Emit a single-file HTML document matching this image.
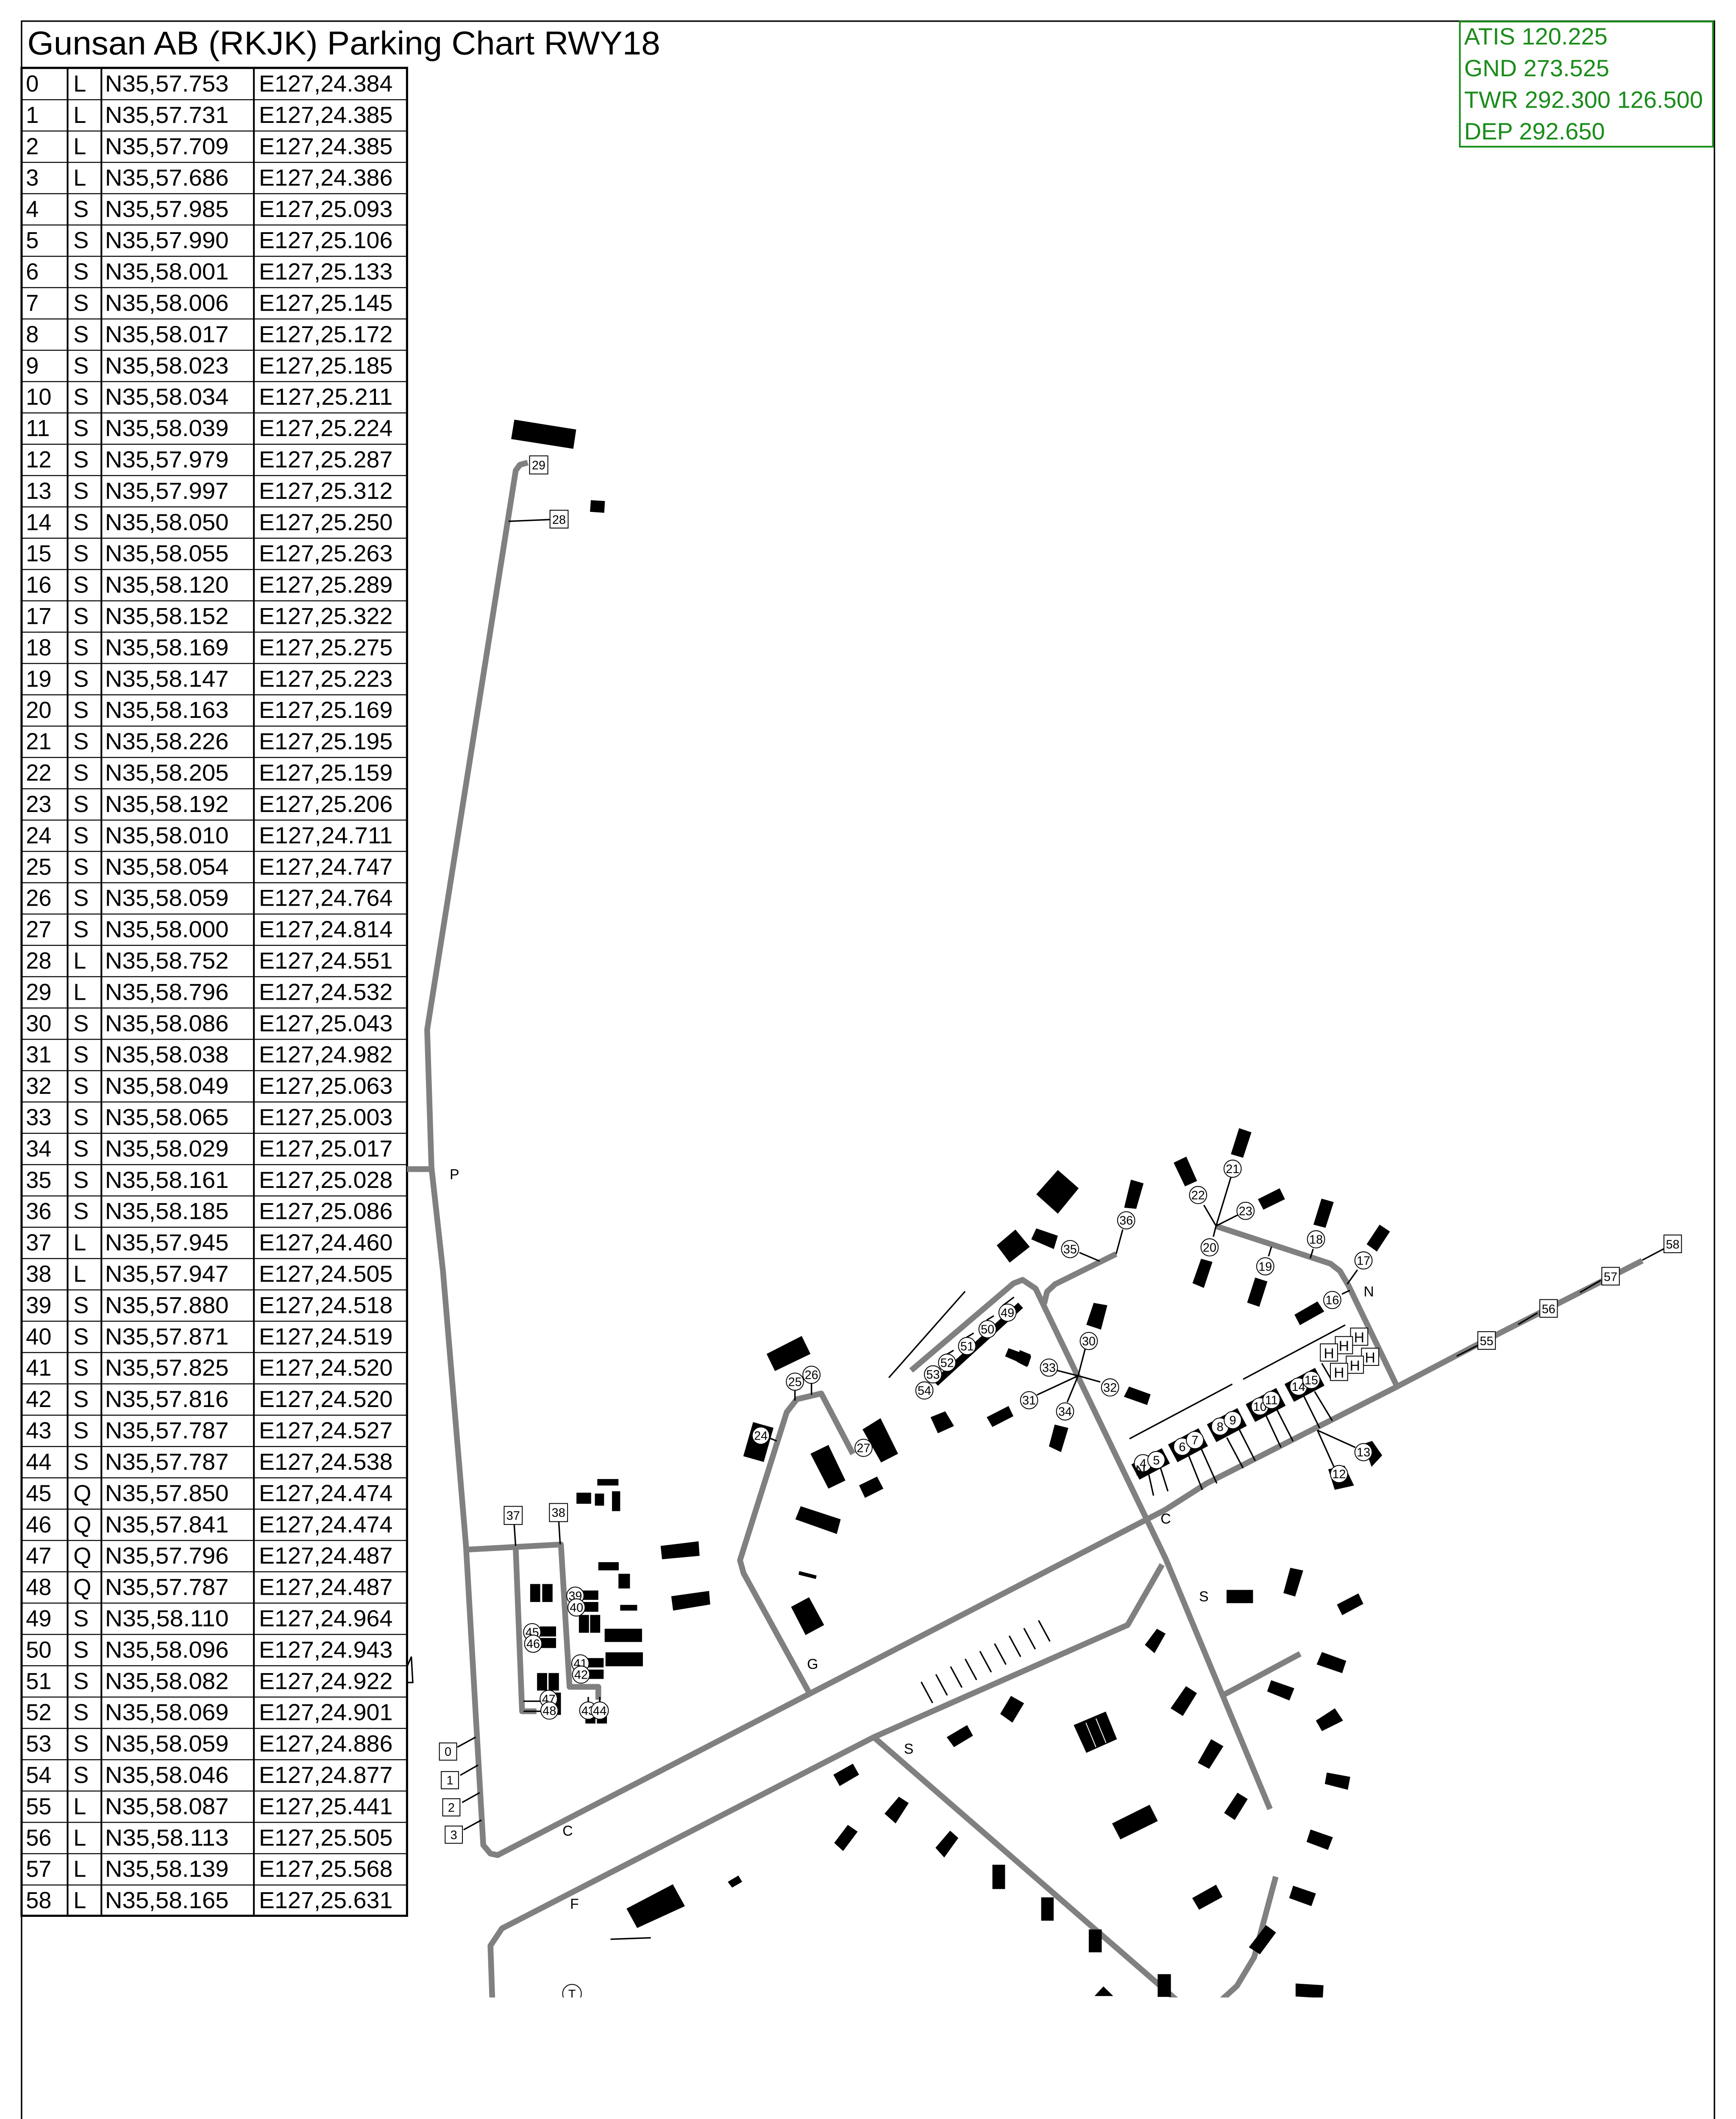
<!DOCTYPE html>
<html><head><meta charset="utf-8">
<style>
html,body{margin:0;padding:0;background:#fff;width:4096px;height:5324px;overflow:hidden;}
svg{display:block;}
text{font-family:"Liberation Sans",Arial,sans-serif;}
</style></head>
<body>
<svg xmlns="http://www.w3.org/2000/svg" width="4096" height="5324" viewBox="0 0 1207 1569" preserveAspectRatio="none">
<defs>
<pattern id="rows" x="0" y="47.2" width="400" height="21.78" patternUnits="userSpaceOnUse">
<line x1="0" y1="0" x2="400" y2="0" stroke="#000" stroke-width="1.4"/>
</pattern>
<clipPath id="mapclip"><rect x="284" y="0" width="923" height="1389"/></clipPath>
</defs>
<rect x="0" y="0" width="1207" height="1569" fill="#fff"/>
<rect x="15" y="14.7" width="1177" height="1541.3" fill="none" stroke="#000" stroke-width="1"/>
<text x="19" y="37.8" font-size="23" textLength="440" lengthAdjust="spacingAndGlyphs">Gunsan AB (RKJK) Parking Chart RWY18</text>
<rect x="1015" y="15" width="176" height="87" fill="#fff" stroke="#1a8c1a" stroke-width="1.2"/>
<g fill="#1a8c1a" font-size="16.5">
<text x="1018" y="31">ATIS 120.225</text>
<text x="1018" y="53">GND 273.525</text>
<text x="1018" y="75">TWR 292.300 126.500</text>
<text x="1018" y="97">DEP 292.650</text>
</g>
<rect x="15" y="47.2" width="268" height="1285" fill="url(#rows)"/>
<rect x="15" y="47.2" width="268" height="1285" fill="none" stroke="#000" stroke-width="1.5"/>
<g stroke="#000" stroke-width="1.2">
<line x1="47" y1="47.2" x2="47" y2="1332.2"/>
<line x1="70.5" y1="47.2" x2="70.5" y2="1332.2"/>
<line x1="176.5" y1="47.2" x2="176.5" y2="1332.2"/>
</g>
<g font-size="16">
<g transform="translate(0,0)"><text x="18" y="63.7">0</text><text x="51" y="63.7">L</text><text x="73" y="63.7" textLength="86" lengthAdjust="spacingAndGlyphs">N35,57.753</text><text x="180" y="63.7" textLength="93" lengthAdjust="spacingAndGlyphs">E127,24.384</text></g>
<g transform="translate(0,21.78)"><text x="18" y="63.7">1</text><text x="51" y="63.7">L</text><text x="73" y="63.7" textLength="86" lengthAdjust="spacingAndGlyphs">N35,57.731</text><text x="180" y="63.7" textLength="93" lengthAdjust="spacingAndGlyphs">E127,24.385</text></g>
<g transform="translate(0,43.56)"><text x="18" y="63.7">2</text><text x="51" y="63.7">L</text><text x="73" y="63.7" textLength="86" lengthAdjust="spacingAndGlyphs">N35,57.709</text><text x="180" y="63.7" textLength="93" lengthAdjust="spacingAndGlyphs">E127,24.385</text></g>
<g transform="translate(0,65.34)"><text x="18" y="63.7">3</text><text x="51" y="63.7">L</text><text x="73" y="63.7" textLength="86" lengthAdjust="spacingAndGlyphs">N35,57.686</text><text x="180" y="63.7" textLength="93" lengthAdjust="spacingAndGlyphs">E127,24.386</text></g>
<g transform="translate(0,87.12)"><text x="18" y="63.7">4</text><text x="51" y="63.7">S</text><text x="73" y="63.7" textLength="86" lengthAdjust="spacingAndGlyphs">N35,57.985</text><text x="180" y="63.7" textLength="93" lengthAdjust="spacingAndGlyphs">E127,25.093</text></g>
<g transform="translate(0,108.9)"><text x="18" y="63.7">5</text><text x="51" y="63.7">S</text><text x="73" y="63.7" textLength="86" lengthAdjust="spacingAndGlyphs">N35,57.990</text><text x="180" y="63.7" textLength="93" lengthAdjust="spacingAndGlyphs">E127,25.106</text></g>
<g transform="translate(0,130.68)"><text x="18" y="63.7">6</text><text x="51" y="63.7">S</text><text x="73" y="63.7" textLength="86" lengthAdjust="spacingAndGlyphs">N35,58.001</text><text x="180" y="63.7" textLength="93" lengthAdjust="spacingAndGlyphs">E127,25.133</text></g>
<g transform="translate(0,152.46)"><text x="18" y="63.7">7</text><text x="51" y="63.7">S</text><text x="73" y="63.7" textLength="86" lengthAdjust="spacingAndGlyphs">N35,58.006</text><text x="180" y="63.7" textLength="93" lengthAdjust="spacingAndGlyphs">E127,25.145</text></g>
<g transform="translate(0,174.24)"><text x="18" y="63.7">8</text><text x="51" y="63.7">S</text><text x="73" y="63.7" textLength="86" lengthAdjust="spacingAndGlyphs">N35,58.017</text><text x="180" y="63.7" textLength="93" lengthAdjust="spacingAndGlyphs">E127,25.172</text></g>
<g transform="translate(0,196.02)"><text x="18" y="63.7">9</text><text x="51" y="63.7">S</text><text x="73" y="63.7" textLength="86" lengthAdjust="spacingAndGlyphs">N35,58.023</text><text x="180" y="63.7" textLength="93" lengthAdjust="spacingAndGlyphs">E127,25.185</text></g>
<g transform="translate(0,217.8)"><text x="18" y="63.7">10</text><text x="51" y="63.7">S</text><text x="73" y="63.7" textLength="86" lengthAdjust="spacingAndGlyphs">N35,58.034</text><text x="180" y="63.7" textLength="93" lengthAdjust="spacingAndGlyphs">E127,25.211</text></g>
<g transform="translate(0,239.58)"><text x="18" y="63.7">11</text><text x="51" y="63.7">S</text><text x="73" y="63.7" textLength="86" lengthAdjust="spacingAndGlyphs">N35,58.039</text><text x="180" y="63.7" textLength="93" lengthAdjust="spacingAndGlyphs">E127,25.224</text></g>
<g transform="translate(0,261.36)"><text x="18" y="63.7">12</text><text x="51" y="63.7">S</text><text x="73" y="63.7" textLength="86" lengthAdjust="spacingAndGlyphs">N35,57.979</text><text x="180" y="63.7" textLength="93" lengthAdjust="spacingAndGlyphs">E127,25.287</text></g>
<g transform="translate(0,283.14)"><text x="18" y="63.7">13</text><text x="51" y="63.7">S</text><text x="73" y="63.7" textLength="86" lengthAdjust="spacingAndGlyphs">N35,57.997</text><text x="180" y="63.7" textLength="93" lengthAdjust="spacingAndGlyphs">E127,25.312</text></g>
<g transform="translate(0,304.92)"><text x="18" y="63.7">14</text><text x="51" y="63.7">S</text><text x="73" y="63.7" textLength="86" lengthAdjust="spacingAndGlyphs">N35,58.050</text><text x="180" y="63.7" textLength="93" lengthAdjust="spacingAndGlyphs">E127,25.250</text></g>
<g transform="translate(0,326.7)"><text x="18" y="63.7">15</text><text x="51" y="63.7">S</text><text x="73" y="63.7" textLength="86" lengthAdjust="spacingAndGlyphs">N35,58.055</text><text x="180" y="63.7" textLength="93" lengthAdjust="spacingAndGlyphs">E127,25.263</text></g>
<g transform="translate(0,348.48)"><text x="18" y="63.7">16</text><text x="51" y="63.7">S</text><text x="73" y="63.7" textLength="86" lengthAdjust="spacingAndGlyphs">N35,58.120</text><text x="180" y="63.7" textLength="93" lengthAdjust="spacingAndGlyphs">E127,25.289</text></g>
<g transform="translate(0,370.26)"><text x="18" y="63.7">17</text><text x="51" y="63.7">S</text><text x="73" y="63.7" textLength="86" lengthAdjust="spacingAndGlyphs">N35,58.152</text><text x="180" y="63.7" textLength="93" lengthAdjust="spacingAndGlyphs">E127,25.322</text></g>
<g transform="translate(0,392.04)"><text x="18" y="63.7">18</text><text x="51" y="63.7">S</text><text x="73" y="63.7" textLength="86" lengthAdjust="spacingAndGlyphs">N35,58.169</text><text x="180" y="63.7" textLength="93" lengthAdjust="spacingAndGlyphs">E127,25.275</text></g>
<g transform="translate(0,413.82)"><text x="18" y="63.7">19</text><text x="51" y="63.7">S</text><text x="73" y="63.7" textLength="86" lengthAdjust="spacingAndGlyphs">N35,58.147</text><text x="180" y="63.7" textLength="93" lengthAdjust="spacingAndGlyphs">E127,25.223</text></g>
<g transform="translate(0,435.6)"><text x="18" y="63.7">20</text><text x="51" y="63.7">S</text><text x="73" y="63.7" textLength="86" lengthAdjust="spacingAndGlyphs">N35,58.163</text><text x="180" y="63.7" textLength="93" lengthAdjust="spacingAndGlyphs">E127,25.169</text></g>
<g transform="translate(0,457.38)"><text x="18" y="63.7">21</text><text x="51" y="63.7">S</text><text x="73" y="63.7" textLength="86" lengthAdjust="spacingAndGlyphs">N35,58.226</text><text x="180" y="63.7" textLength="93" lengthAdjust="spacingAndGlyphs">E127,25.195</text></g>
<g transform="translate(0,479.16)"><text x="18" y="63.7">22</text><text x="51" y="63.7">S</text><text x="73" y="63.7" textLength="86" lengthAdjust="spacingAndGlyphs">N35,58.205</text><text x="180" y="63.7" textLength="93" lengthAdjust="spacingAndGlyphs">E127,25.159</text></g>
<g transform="translate(0,500.94)"><text x="18" y="63.7">23</text><text x="51" y="63.7">S</text><text x="73" y="63.7" textLength="86" lengthAdjust="spacingAndGlyphs">N35,58.192</text><text x="180" y="63.7" textLength="93" lengthAdjust="spacingAndGlyphs">E127,25.206</text></g>
<g transform="translate(0,522.72)"><text x="18" y="63.7">24</text><text x="51" y="63.7">S</text><text x="73" y="63.7" textLength="86" lengthAdjust="spacingAndGlyphs">N35,58.010</text><text x="180" y="63.7" textLength="93" lengthAdjust="spacingAndGlyphs">E127,24.711</text></g>
<g transform="translate(0,544.5)"><text x="18" y="63.7">25</text><text x="51" y="63.7">S</text><text x="73" y="63.7" textLength="86" lengthAdjust="spacingAndGlyphs">N35,58.054</text><text x="180" y="63.7" textLength="93" lengthAdjust="spacingAndGlyphs">E127,24.747</text></g>
<g transform="translate(0,566.28)"><text x="18" y="63.7">26</text><text x="51" y="63.7">S</text><text x="73" y="63.7" textLength="86" lengthAdjust="spacingAndGlyphs">N35,58.059</text><text x="180" y="63.7" textLength="93" lengthAdjust="spacingAndGlyphs">E127,24.764</text></g>
<g transform="translate(0,588.06)"><text x="18" y="63.7">27</text><text x="51" y="63.7">S</text><text x="73" y="63.7" textLength="86" lengthAdjust="spacingAndGlyphs">N35,58.000</text><text x="180" y="63.7" textLength="93" lengthAdjust="spacingAndGlyphs">E127,24.814</text></g>
<g transform="translate(0,609.84)"><text x="18" y="63.7">28</text><text x="51" y="63.7">L</text><text x="73" y="63.7" textLength="86" lengthAdjust="spacingAndGlyphs">N35,58.752</text><text x="180" y="63.7" textLength="93" lengthAdjust="spacingAndGlyphs">E127,24.551</text></g>
<g transform="translate(0,631.62)"><text x="18" y="63.7">29</text><text x="51" y="63.7">L</text><text x="73" y="63.7" textLength="86" lengthAdjust="spacingAndGlyphs">N35,58.796</text><text x="180" y="63.7" textLength="93" lengthAdjust="spacingAndGlyphs">E127,24.532</text></g>
<g transform="translate(0,653.4)"><text x="18" y="63.7">30</text><text x="51" y="63.7">S</text><text x="73" y="63.7" textLength="86" lengthAdjust="spacingAndGlyphs">N35,58.086</text><text x="180" y="63.7" textLength="93" lengthAdjust="spacingAndGlyphs">E127,25.043</text></g>
<g transform="translate(0,675.18)"><text x="18" y="63.7">31</text><text x="51" y="63.7">S</text><text x="73" y="63.7" textLength="86" lengthAdjust="spacingAndGlyphs">N35,58.038</text><text x="180" y="63.7" textLength="93" lengthAdjust="spacingAndGlyphs">E127,24.982</text></g>
<g transform="translate(0,696.96)"><text x="18" y="63.7">32</text><text x="51" y="63.7">S</text><text x="73" y="63.7" textLength="86" lengthAdjust="spacingAndGlyphs">N35,58.049</text><text x="180" y="63.7" textLength="93" lengthAdjust="spacingAndGlyphs">E127,25.063</text></g>
<g transform="translate(0,718.74)"><text x="18" y="63.7">33</text><text x="51" y="63.7">S</text><text x="73" y="63.7" textLength="86" lengthAdjust="spacingAndGlyphs">N35,58.065</text><text x="180" y="63.7" textLength="93" lengthAdjust="spacingAndGlyphs">E127,25.003</text></g>
<g transform="translate(0,740.52)"><text x="18" y="63.7">34</text><text x="51" y="63.7">S</text><text x="73" y="63.7" textLength="86" lengthAdjust="spacingAndGlyphs">N35,58.029</text><text x="180" y="63.7" textLength="93" lengthAdjust="spacingAndGlyphs">E127,25.017</text></g>
<g transform="translate(0,762.3)"><text x="18" y="63.7">35</text><text x="51" y="63.7">S</text><text x="73" y="63.7" textLength="86" lengthAdjust="spacingAndGlyphs">N35,58.161</text><text x="180" y="63.7" textLength="93" lengthAdjust="spacingAndGlyphs">E127,25.028</text></g>
<g transform="translate(0,784.08)"><text x="18" y="63.7">36</text><text x="51" y="63.7">S</text><text x="73" y="63.7" textLength="86" lengthAdjust="spacingAndGlyphs">N35,58.185</text><text x="180" y="63.7" textLength="93" lengthAdjust="spacingAndGlyphs">E127,25.086</text></g>
<g transform="translate(0,805.86)"><text x="18" y="63.7">37</text><text x="51" y="63.7">L</text><text x="73" y="63.7" textLength="86" lengthAdjust="spacingAndGlyphs">N35,57.945</text><text x="180" y="63.7" textLength="93" lengthAdjust="spacingAndGlyphs">E127,24.460</text></g>
<g transform="translate(0,827.64)"><text x="18" y="63.7">38</text><text x="51" y="63.7">L</text><text x="73" y="63.7" textLength="86" lengthAdjust="spacingAndGlyphs">N35,57.947</text><text x="180" y="63.7" textLength="93" lengthAdjust="spacingAndGlyphs">E127,24.505</text></g>
<g transform="translate(0,849.42)"><text x="18" y="63.7">39</text><text x="51" y="63.7">S</text><text x="73" y="63.7" textLength="86" lengthAdjust="spacingAndGlyphs">N35,57.880</text><text x="180" y="63.7" textLength="93" lengthAdjust="spacingAndGlyphs">E127,24.518</text></g>
<g transform="translate(0,871.2)"><text x="18" y="63.7">40</text><text x="51" y="63.7">S</text><text x="73" y="63.7" textLength="86" lengthAdjust="spacingAndGlyphs">N35,57.871</text><text x="180" y="63.7" textLength="93" lengthAdjust="spacingAndGlyphs">E127,24.519</text></g>
<g transform="translate(0,892.98)"><text x="18" y="63.7">41</text><text x="51" y="63.7">S</text><text x="73" y="63.7" textLength="86" lengthAdjust="spacingAndGlyphs">N35,57.825</text><text x="180" y="63.7" textLength="93" lengthAdjust="spacingAndGlyphs">E127,24.520</text></g>
<g transform="translate(0,914.76)"><text x="18" y="63.7">42</text><text x="51" y="63.7">S</text><text x="73" y="63.7" textLength="86" lengthAdjust="spacingAndGlyphs">N35,57.816</text><text x="180" y="63.7" textLength="93" lengthAdjust="spacingAndGlyphs">E127,24.520</text></g>
<g transform="translate(0,936.54)"><text x="18" y="63.7">43</text><text x="51" y="63.7">S</text><text x="73" y="63.7" textLength="86" lengthAdjust="spacingAndGlyphs">N35,57.787</text><text x="180" y="63.7" textLength="93" lengthAdjust="spacingAndGlyphs">E127,24.527</text></g>
<g transform="translate(0,958.32)"><text x="18" y="63.7">44</text><text x="51" y="63.7">S</text><text x="73" y="63.7" textLength="86" lengthAdjust="spacingAndGlyphs">N35,57.787</text><text x="180" y="63.7" textLength="93" lengthAdjust="spacingAndGlyphs">E127,24.538</text></g>
<g transform="translate(0,980.1)"><text x="18" y="63.7">45</text><text x="51" y="63.7">Q</text><text x="73" y="63.7" textLength="86" lengthAdjust="spacingAndGlyphs">N35,57.850</text><text x="180" y="63.7" textLength="93" lengthAdjust="spacingAndGlyphs">E127,24.474</text></g>
<g transform="translate(0,1001.88)"><text x="18" y="63.7">46</text><text x="51" y="63.7">Q</text><text x="73" y="63.7" textLength="86" lengthAdjust="spacingAndGlyphs">N35,57.841</text><text x="180" y="63.7" textLength="93" lengthAdjust="spacingAndGlyphs">E127,24.474</text></g>
<g transform="translate(0,1023.66)"><text x="18" y="63.7">47</text><text x="51" y="63.7">Q</text><text x="73" y="63.7" textLength="86" lengthAdjust="spacingAndGlyphs">N35,57.796</text><text x="180" y="63.7" textLength="93" lengthAdjust="spacingAndGlyphs">E127,24.487</text></g>
<g transform="translate(0,1045.44)"><text x="18" y="63.7">48</text><text x="51" y="63.7">Q</text><text x="73" y="63.7" textLength="86" lengthAdjust="spacingAndGlyphs">N35,57.787</text><text x="180" y="63.7" textLength="93" lengthAdjust="spacingAndGlyphs">E127,24.487</text></g>
<g transform="translate(0,1067.22)"><text x="18" y="63.7">49</text><text x="51" y="63.7">S</text><text x="73" y="63.7" textLength="86" lengthAdjust="spacingAndGlyphs">N35,58.110</text><text x="180" y="63.7" textLength="93" lengthAdjust="spacingAndGlyphs">E127,24.964</text></g>
<g transform="translate(0,1089)"><text x="18" y="63.7">50</text><text x="51" y="63.7">S</text><text x="73" y="63.7" textLength="86" lengthAdjust="spacingAndGlyphs">N35,58.096</text><text x="180" y="63.7" textLength="93" lengthAdjust="spacingAndGlyphs">E127,24.943</text></g>
<g transform="translate(0,1110.78)"><text x="18" y="63.7">51</text><text x="51" y="63.7">S</text><text x="73" y="63.7" textLength="86" lengthAdjust="spacingAndGlyphs">N35,58.082</text><text x="180" y="63.7" textLength="93" lengthAdjust="spacingAndGlyphs">E127,24.922</text></g>
<g transform="translate(0,1132.56)"><text x="18" y="63.7">52</text><text x="51" y="63.7">S</text><text x="73" y="63.7" textLength="86" lengthAdjust="spacingAndGlyphs">N35,58.069</text><text x="180" y="63.7" textLength="93" lengthAdjust="spacingAndGlyphs">E127,24.901</text></g>
<g transform="translate(0,1154.34)"><text x="18" y="63.7">53</text><text x="51" y="63.7">S</text><text x="73" y="63.7" textLength="86" lengthAdjust="spacingAndGlyphs">N35,58.059</text><text x="180" y="63.7" textLength="93" lengthAdjust="spacingAndGlyphs">E127,24.886</text></g>
<g transform="translate(0,1176.12)"><text x="18" y="63.7">54</text><text x="51" y="63.7">S</text><text x="73" y="63.7" textLength="86" lengthAdjust="spacingAndGlyphs">N35,58.046</text><text x="180" y="63.7" textLength="93" lengthAdjust="spacingAndGlyphs">E127,24.877</text></g>
<g transform="translate(0,1197.9)"><text x="18" y="63.7">55</text><text x="51" y="63.7">L</text><text x="73" y="63.7" textLength="86" lengthAdjust="spacingAndGlyphs">N35,58.087</text><text x="180" y="63.7" textLength="93" lengthAdjust="spacingAndGlyphs">E127,25.441</text></g>
<g transform="translate(0,1219.68)"><text x="18" y="63.7">56</text><text x="51" y="63.7">L</text><text x="73" y="63.7" textLength="86" lengthAdjust="spacingAndGlyphs">N35,58.113</text><text x="180" y="63.7" textLength="93" lengthAdjust="spacingAndGlyphs">E127,25.505</text></g>
<g transform="translate(0,1241.46)"><text x="18" y="63.7">57</text><text x="51" y="63.7">L</text><text x="73" y="63.7" textLength="86" lengthAdjust="spacingAndGlyphs">N35,58.139</text><text x="180" y="63.7" textLength="93" lengthAdjust="spacingAndGlyphs">E127,25.568</text></g>
<g transform="translate(0,1263.24)"><text x="18" y="63.7">58</text><text x="51" y="63.7">L</text><text x="73" y="63.7" textLength="86" lengthAdjust="spacingAndGlyphs">N35,58.165</text><text x="180" y="63.7" textLength="93" lengthAdjust="spacingAndGlyphs">E127,25.631</text></g>
</g>

<g clip-path="url(#mapclip)">
<g fill="none" stroke="#808080" stroke-width="4" stroke-linejoin="round" stroke-linecap="butt">
<polyline points="366.9,321.7 361.5,323.2 358.6,327.1 297,716 300,812 308,884 324,1075 336,1283 341,1289 346,1290 810,1050 839,1031.5 971.4,964.2 1030,933.5 1141.8,876.7"/>
<polyline points="325.7,1077.5 390,1074 396,1173 416,1173 416,1182"/>
<polyline points="358.5,1075 363,1190 373,1190"/>
<polyline points="562,1176 517,1094 514.5,1085 547,982 554,973 571,969 593,1011"/>
<polyline points="342.6,1400 341,1353 349,1341 607.5,1208 784,1130 808,1088"/>
<polyline points="607.5,1208 869,1435"/>
<polyline points="887,1305 872,1361 860,1381 849,1391 827,1395 813,1391"/>
<polyline points="633.5,953 704.6,892.5 711,890 720,896 810.5,1084 883,1258"/>
<polyline points="726,906.6 728,898.2 733.6,893 776,872"/>
<polyline points="849,1179.5 904,1150"/>
<polyline points="845,852.5 925,878.7 931.6,883.8 937.6,894 971.4,964.2"/>
</g>
<g stroke="#000" stroke-width="1" fill="none">
<line x1="671" y1="898" x2="618" y2="958"/>
<line x1="785.3" y1="1000.5" x2="856.8" y2="962.5"/>
<line x1="864.3" y1="959.1" x2="935.3" y2="921.4"/>
<line x1="424.5" y1="1348.5" x2="452.5" y2="1347.5"/>
<line x1="1141.8" y1="876.3" x2="1156.8" y2="868.4"/>
<line x1="1012.8" y1="943" x2="1027.4" y2="935.6"/>
<line x1="1055.5" y1="921" x2="1069" y2="913"/>
<line x1="1098.5" y1="898.8" x2="1113" y2="890.3"/>
<line x1="640.5" y1="1169.6" x2="648.4" y2="1184.2"/>
<line x1="650.7" y1="1164.3" x2="658.6" y2="1178.9"/>
<line x1="660.9" y1="1158.9" x2="668.8" y2="1173.5"/>
<line x1="671.1" y1="1153.6" x2="679" y2="1168.2"/>
<line x1="681.3" y1="1148.2" x2="689.2" y2="1162.8"/>
<line x1="691.5" y1="1142.9" x2="699.4" y2="1157.5"/>
<line x1="701.7" y1="1137.5" x2="709.6" y2="1152.1"/>
<line x1="711.9" y1="1132.2" x2="719.8" y2="1146.8"/>
<line x1="722.1" y1="1126.8" x2="730" y2="1141.4"/>
<line x1="353.6" y1="362.5" x2="382.4" y2="361.3"/>
<line x1="750.5" y1="871" x2="764.6" y2="877"/>
<line x1="776" y1="872" x2="780.6" y2="855"/>
<line x1="845.5" y1="852.5" x2="855.8" y2="818.7"/>
<line x1="845.5" y1="852.5" x2="837" y2="838"/>
<line x1="845.5" y1="852.5" x2="860.5" y2="844.9"/>
<line x1="845.5" y1="852.5" x2="843.6" y2="860"/>
<line x1="884" y1="866.9" x2="882" y2="873.6"/>
<line x1="913" y1="868.5" x2="911" y2="875"/>
<line x1="943.8" y1="883" x2="936.7" y2="893"/>
<line x1="933" y1="899.9" x2="938.5" y2="897.3"/>
<line x1="749.6" y1="956.7" x2="754.5" y2="938"/>
<line x1="749.6" y1="956.7" x2="735" y2="953"/>
<line x1="749.6" y1="956.7" x2="765" y2="961"/>
<line x1="749.6" y1="956.7" x2="721" y2="970"/>
<line x1="749.6" y1="956.7" x2="742" y2="975"/>
<line x1="806" y1="1018" x2="812" y2="1037"/>
<line x1="798" y1="1022" x2="802" y2="1040"/>
<line x1="835" y1="1007" x2="846" y2="1031.5"/>
<line x1="826" y1="1011" x2="836" y2="1036"/>
<line x1="853" y1="999.7" x2="864.3" y2="1020.9"/>
<line x1="861.5" y1="993.8" x2="872.7" y2="1015.8"/>
<line x1="880.3" y1="984.5" x2="890.6" y2="1006.5"/>
<line x1="887.8" y1="980.2" x2="899" y2="1002.2"/>
<line x1="906.6" y1="971" x2="917.5" y2="993"/>
<line x1="914" y1="967.6" x2="926.3" y2="987.9"/>
<line x1="916" y1="994.6" x2="942.3" y2="1006.5"/>
<line x1="916" y1="994.6" x2="928.2" y2="1021.7"/>
<line x1="919" y1="948" x2="926" y2="960"/>
<line x1="552.7" y1="966" x2="552.7" y2="974"/>
<line x1="564.2" y1="962" x2="564.2" y2="970"/>
<line x1="535" y1="1000" x2="540" y2="1002"/>
<line x1="318" y1="1214.9" x2="330.7" y2="1208"/>
<line x1="320" y1="1234.5" x2="332.4" y2="1227.4"/>
<line x1="321.3" y1="1253.4" x2="333.5" y2="1246.6"/>
<line x1="322.3" y1="1272.4" x2="334.8" y2="1265.6"/>
<line x1="357.5" y1="1060" x2="358.5" y2="1075"/>
<line x1="388.5" y1="1058" x2="389.5" y2="1074"/>
<line x1="364" y1="1183" x2="376" y2="1183"/>
<line x1="364" y1="1190" x2="376" y2="1190"/>
<line x1="409" y1="1180" x2="409" y2="1185"/>
<line x1="417" y1="1180" x2="417" y2="1185"/>
<line x1="705" y1="902" x2="697" y2="908"/>
<line x1="691" y1="915" x2="686" y2="918"/>
<line x1="677" y1="927" x2="672" y2="930"/>
<line x1="663" y1="939" x2="658" y2="942"/>
<line x1="643" y1="955" x2="648" y2="961"/>
</g>
<line x1="709.6" y1="907.7" x2="650.4" y2="961.8" stroke="#000" stroke-width="5"/>
<g fill="#000">
<polygon points="357.6,291.8 400.6,298.7 398.6,312.1 355.4,305.3"/>
<polygon points="410.8,347.8 420.6,348.4 420.1,356.6 410.2,355.9"/>
<polygon points="720.5,830.5 735.5,813.6 750,826.3 735.5,844"/>
<polygon points="717,861.8 720.5,854.2 735.5,859.3 732.7,868.6"/>
<polygon points="693,866 706,855 716,867 702,878"/>
<polygon points="781.6,839.8 786.3,820.3 795.1,822.9 790,840.6"/>
<polygon points="816,808.5 824.8,804.3 832.3,821.2 823.9,825"/>
<polygon points="855.8,802.6 861.5,784.5 870.1,787.4 864.3,805.1"/>
<polygon points="874.6,833.9 889.7,826.3 893.4,833.9 878.4,841.2"/>
<polygon points="829.1,892.3 835.1,875.3 843,877.5 837,895.6"/>
<polygon points="867.1,905.8 872.7,888.4 881.2,891.1 875.6,908.7"/>
<polygon points="913.2,851.6 918.8,833.5 927.3,835.9 921.6,853.8"/>
<polygon points="950.2,865.2 959.2,851.6 966.4,856.4 957.3,870.3"/>
<polygon points="900,914.2 916,905 920.7,912 903.8,921.5"/>
<polygon points="755.3,921.2 760.4,906 769.9,907.7 765.5,924.6"/>
<polygon points="729.3,1005.8 733.3,990.6 742.8,993 737.7,1009.8"/>
<polygon points="781.4,971.3 785,964.2 800,969.6 797.6,977"/>
<polygon points="707,947 709,938.8 716.7,942 714,950.6"/>
<polygon points="948,1004 954,1002 961,1012 953.6,1020"/>
<polygon points="923.5,1021.7 934.8,1019.2 941.4,1033 928,1036"/>
<polygon points="533,941.5 557.4,929 563.5,941.5 538.8,953.4"/>
<polygon points="516.8,1012.6 523.6,988.9 537.8,992.9 531,1016.6"/>
<polygon points="563.5,1010.9 576,1004.8 587.8,1029.5 576,1035.2"/>
<polygon points="599.7,994 612.2,986.2 624.4,1010.9 612.6,1017"/>
<polygon points="597.3,1032.9 609.8,1026.8 614.2,1035.2 601.4,1041.6"/>
<polygon points="553,1056.5 556.7,1047.4 584.5,1056.5 581.8,1066.7"/>
<polygon points="555.7,1092.5 567.8,1095.6 567.2,1098 555.2,1095"/>
<polygon points="550,1117.4 562.5,1110.7 573,1130 560.1,1137"/>
<polygon points="459.3,1075 485.7,1071.8 486.4,1081.9 460.3,1084.3"/>
<polygon points="466.7,1110 493,1106.3 493.8,1115.7 468,1120"/>
<rect x="420.4" y="1132.6" width="26" height="9.2"/>
<rect x="421" y="1149" width="26" height="9.7"/>
<rect x="416" y="1086.3" width="14.2" height="5.7"/>
<rect x="430" y="1094.4" width="8" height="10.2"/>
<rect x="431.2" y="1116" width="11.8" height="4"/>
<rect x="415.3" y="1028.5" width="14.7" height="4.5"/>
<rect x="400.8" y="1038" width="10.2" height="7.7"/>
<rect x="413.6" y="1038.6" width="6.4" height="8.4"/>
<rect x="425.5" y="1037" width="5.7" height="13.8"/>
<rect x="368.6" y="1101.5" width="7" height="12.5"/>
<rect x="377" y="1101.5" width="7.2" height="12.5"/>
<rect x="401.8" y="1106" width="14.2" height="6.5"/>
<rect x="401.8" y="1114" width="14.2" height="6.8"/>
<rect x="402.5" y="1123" width="7" height="12.4"/>
<rect x="410.3" y="1123" width="7" height="12.4"/>
<rect x="375.4" y="1131" width="11.2" height="7"/>
<rect x="375.4" y="1139" width="11.2" height="7"/>
<rect x="373.4" y="1163.4" width="7" height="12.2"/>
<rect x="381.4" y="1163.4" width="7.2" height="12.2"/>
<rect x="408" y="1153" width="11.7" height="6.5"/>
<rect x="408" y="1161" width="11.7" height="6.5"/>
<rect x="378" y="1177" width="12" height="15.5"/>
<rect x="407" y="1193.5" width="7" height="5"/>
<rect x="415" y="1193.5" width="7" height="5"/>
<polygon points="647,985.5 657.2,981.4 663.3,991.6 652.1,996.7"/>
<polygon points="686,985.5 701.2,977.7 704.6,984.8 690,992.3"/>
<polygon points="698.8,943.2 701.2,937.5 717,943.2 714.7,950"/>
<polygon points="796,1143.8 804.4,1132.6 810.4,1136 802.7,1149.6"/>
<polygon points="695.4,1191.8 702.9,1179.3 712,1184.4 703.9,1197.9"/>
<polygon points="658.2,1208 672.4,1199.6 676.5,1207 663.3,1214.9"/>
<polygon points="746.5,1199.6 768.8,1190.2 776.6,1209.4 755.3,1218.9"/>
<polygon points="773.2,1268 799.3,1255 805,1266.3 779,1279.1"/>
<polygon points="579.4,1234.1 593,1226.4 597.3,1234.1 583.8,1242"/>
<polygon points="615,1261.2 625,1249.4 631.8,1253.8 622.7,1268"/>
<polygon points="580,1281.5 589.5,1269 596.3,1273.7 586.2,1287.2"/>
<polygon points="650.4,1284.9 660.6,1273 666.3,1278.1 656.5,1291.7"/>
<rect x="690" y="1296.7" width="8.8" height="16.9"/>
<rect x="723.9" y="1319.4" width="8.7" height="16.2"/>
<rect x="757" y="1341.7" width="9" height="15.9"/>
<rect x="804.9" y="1372.8" width="9.2" height="15.8"/>
<polygon points="761,1388 767.2,1381.3 774,1388"/>
<polygon points="435.6,1327.2 467.8,1310.3 476.2,1325.5 443,1340.7"/>
<polygon points="506,1308.6 513.4,1304.2 516,1308.6 509,1312.6"/>
<rect x="852.8" y="1105.6" width="18.4" height="9.2"/>
<polygon points="892.3,1107.8 897.1,1090.2 906.1,1092.1 900.5,1110.2"/>
<polygon points="929.5,1115.8 944.5,1108 947.9,1115.3 933.2,1123.2"/>
<polygon points="813.9,1187.9 824.6,1172.5 832.2,1177.4 822.4,1193.3"/>
<polygon points="915.4,1157.4 919.1,1148.8 936,1154.9 933.2,1163.5"/>
<polygon points="881,1176.2 883.8,1168.4 899.9,1174 896.5,1182.5"/>
<polygon points="914.9,1196.5 928.1,1187.9 933.8,1196.5 919.1,1203.8"/>
<polygon points="832.8,1225.8 842.1,1209.4 850.6,1214.3 840.7,1230"/>
<polygon points="921.1,1240.5 922.5,1232.6 938.8,1235.6 937.1,1244.6"/>
<polygon points="851.1,1260.7 860.4,1246.6 867.5,1251 858.5,1265.6"/>
<polygon points="908.4,1280.8 911.2,1272.2 926.7,1277.6 923.3,1286.4"/>
<polygon points="828.9,1319.9 845.5,1310.6 850,1319.1 833.7,1328"/>
<polygon points="896.3,1319.9 899.1,1311.3 914.9,1316.7 911.8,1325.5"/>
<polygon points="868.3,1354.1 880.2,1338.7 887.2,1343.8 876,1359"/>
<polygon points="900.8,1379.3 920.2,1380.5 919.7,1389.5 900.8,1388.3"/>
<g transform="translate(800,1018) rotate(-28)"><rect x="-12" y="-6" width="24" height="12"/></g>
<g transform="translate(826,1005) rotate(-28)"><rect x="-12" y="-7" width="24" height="14"/></g>
<g transform="translate(853,991) rotate(-28)"><rect x="-12" y="-7" width="24" height="14"/></g>
<g transform="translate(880,977) rotate(-28)"><rect x="-12" y="-7" width="24" height="14"/></g>
<g transform="translate(907,963) rotate(-28)"><rect x="-12" y="-7" width="24" height="14"/></g>
</g>
<g stroke="#fff" stroke-width="0.6">
<line x1="755" y1="1198" x2="762" y2="1215"/>
<line x1="762" y1="1195" x2="769" y2="1212"/>
</g>
</g>

<g stroke="#000" stroke-width="1" fill="none">
<line x1="283" y1="813" x2="300" y2="813" stroke="#808080" stroke-width="4"/>
<polyline points="283,1170 287,1170 286,1152 283,1159 M286,1152 289,1159"/>
</g>

<g font-size="10" text-anchor="middle" stroke-width="0.6">
<g><rect x="939" y="923.5" width="12" height="12" fill="#fff" stroke="#000"/><text x="945" y="933.5">H</text></g>
<g><rect x="928.4" y="929.4" width="12" height="12" fill="#fff" stroke="#000"/><text x="934.4" y="939.4">H</text></g>
<g><rect x="918" y="934.5" width="12" height="12" fill="#fff" stroke="#000"/><text x="924" y="944.5">H</text></g>
<g><rect x="946.6" y="937.5" width="12" height="12" fill="#fff" stroke="#000"/><text x="952.6" y="947.5">H</text></g>
<g><rect x="936" y="943" width="12" height="12" fill="#fff" stroke="#000"/><text x="942" y="953">H</text></g>
<g><rect x="925" y="948" width="12" height="12" fill="#fff" stroke="#000"/><text x="931" y="958">H</text></g>
</g>

<g font-size="8.5" text-anchor="middle" stroke-width="0.6">
<g><rect x="368.2" y="317" width="12.7" height="12.6" fill="#fff" stroke="#000"/><text x="374.5" y="326.4">29</text></g>
<g><rect x="382.4" y="354.8" width="12.6" height="12.4" fill="#fff" stroke="#000"/><text x="388.7" y="364.2">28</text></g>
<g><rect x="350.5" y="1047.5" width="12.6" height="12.6" fill="#fff" stroke="#000"/><text x="356.8" y="1056.8">37</text></g>
<g><rect x="382" y="1045.5" width="12.6" height="12.6" fill="#fff" stroke="#000"/><text x="388.3" y="1054.8">38</text></g>
<g><rect x="305.5" y="1212" width="12" height="12" fill="#fff" stroke="#000"/><text x="311.5" y="1221">0</text></g>
<g><rect x="306.8" y="1231.9" width="12" height="12" fill="#fff" stroke="#000"/><text x="312.8" y="1240.9">1</text></g>
<g><rect x="307.8" y="1250.8" width="12" height="12" fill="#fff" stroke="#000"/><text x="313.8" y="1259.8">2</text></g>
<g><rect x="309.5" y="1269.8" width="12" height="12" fill="#fff" stroke="#000"/><text x="315.5" y="1278.8">3</text></g>
<g><rect x="1027.5" y="926" width="12.2" height="12.3" fill="#fff" stroke="#000"/><text x="1033.6" y="935.4">55</text></g>
<g><rect x="1070.6" y="903.7" width="12.2" height="12.3" fill="#fff" stroke="#000"/><text x="1076.7" y="913.1">56</text></g>
<g><rect x="1113.7" y="881.3" width="12.2" height="12.3" fill="#fff" stroke="#000"/><text x="1119.8" y="890.7">57</text></g>
<g><rect x="1156.9" y="858.8" width="12.2" height="12.3" fill="#fff" stroke="#000"/><text x="1163" y="868.2">58</text></g>
</g>

<g font-size="8.5" text-anchor="middle" stroke-width="0.6">
<g><circle cx="857" cy="812.7" r="6" fill="#fff" stroke="#000"/><text x="857" y="815.7">21</text></g>
<g><circle cx="833" cy="831" r="6" fill="#fff" stroke="#000"/><text x="833" y="834">22</text></g>
<g><circle cx="866" cy="842" r="6" fill="#fff" stroke="#000"/><text x="866" y="845">23</text></g>
<g><circle cx="841" cy="867.4" r="6" fill="#fff" stroke="#000"/><text x="841" y="870.4">20</text></g>
<g><circle cx="879.7" cy="880.6" r="6" fill="#fff" stroke="#000"/><text x="879.7" y="883.6">19</text></g>
<g><circle cx="915" cy="861.8" r="6" fill="#fff" stroke="#000"/><text x="915" y="864.8">18</text></g>
<g><circle cx="948" cy="876.5" r="6" fill="#fff" stroke="#000"/><text x="948" y="879.5">17</text></g>
<g><circle cx="926.3" cy="904" r="6" fill="#fff" stroke="#000"/><text x="926.3" y="907">16</text></g>
<g><circle cx="783" cy="848.6" r="6" fill="#fff" stroke="#000"/><text x="783" y="851.6">36</text></g>
<g><circle cx="744" cy="868.6" r="6" fill="#fff" stroke="#000"/><text x="744" y="871.6">35</text></g>
<g><circle cx="757" cy="932.5" r="6" fill="#fff" stroke="#000"/><text x="757" y="935.5">30</text></g>
<g><circle cx="729.3" cy="951" r="6" fill="#fff" stroke="#000"/><text x="729.3" y="954">33</text></g>
<g><circle cx="771.8" cy="964.8" r="6" fill="#fff" stroke="#000"/><text x="771.8" y="967.8">32</text></g>
<g><circle cx="715.5" cy="973.7" r="6" fill="#fff" stroke="#000"/><text x="715.5" y="976.7">31</text></g>
<g><circle cx="740.5" cy="981.5" r="6" fill="#fff" stroke="#000"/><text x="740.5" y="984.5">34</text></g>
<g><circle cx="700.5" cy="912.8" r="6" fill="#fff" stroke="#000"/><text x="700.5" y="915.8">49</text></g>
<g><circle cx="686.6" cy="924.3" r="6" fill="#fff" stroke="#000"/><text x="686.6" y="927.3">50</text></g>
<g><circle cx="672.4" cy="936" r="6" fill="#fff" stroke="#000"/><text x="672.4" y="939">51</text></g>
<g><circle cx="658.5" cy="947.6" r="6" fill="#fff" stroke="#000"/><text x="658.5" y="950.6">52</text></g>
<g><circle cx="648.7" cy="955.7" r="6" fill="#fff" stroke="#000"/><text x="648.7" y="958.7">53</text></g>
<g><circle cx="642.7" cy="966.9" r="6" fill="#fff" stroke="#000"/><text x="642.7" y="969.9">54</text></g>
<g><circle cx="552.7" cy="960.8" r="6" fill="#fff" stroke="#000"/><text x="552.7" y="963.8">25</text></g>
<g><circle cx="564.2" cy="956" r="6" fill="#fff" stroke="#000"/><text x="564.2" y="959">26</text></g>
<g><circle cx="600.4" cy="1006.8" r="6" fill="#fff" stroke="#000"/><text x="600.4" y="1009.8">27</text></g>
<g><circle cx="529" cy="998.3" r="6" fill="#fff" stroke="#000"/><text x="529" y="1001.3">24</text></g>
<g><circle cx="400" cy="1109.6" r="6" fill="#fff" stroke="#000"/><text x="400" y="1112.6">39</text></g>
<g><circle cx="400.8" cy="1117.8" r="6" fill="#fff" stroke="#000"/><text x="400.8" y="1120.8">40</text></g>
<g><circle cx="370" cy="1135" r="6" fill="#fff" stroke="#000"/><text x="370" y="1138">45</text></g>
<g><circle cx="370.7" cy="1143" r="6" fill="#fff" stroke="#000"/><text x="370.7" y="1146">46</text></g>
<g><circle cx="403.5" cy="1156.7" r="6" fill="#fff" stroke="#000"/><text x="403.5" y="1159.7">41</text></g>
<g><circle cx="404" cy="1164.5" r="6" fill="#fff" stroke="#000"/><text x="404" y="1167.5">42</text></g>
<g><circle cx="381.5" cy="1181.4" r="6" fill="#fff" stroke="#000"/><text x="381.5" y="1184.4">47</text></g>
<g><circle cx="382" cy="1189.5" r="6" fill="#fff" stroke="#000"/><text x="382" y="1192.5">48</text></g>
<g><circle cx="409" cy="1189.5" r="6" fill="#fff" stroke="#000"/><text x="409" y="1192.5">43</text></g>
<g><circle cx="417" cy="1189.5" r="6" fill="#fff" stroke="#000"/><text x="417" y="1192.5">44</text></g>
<g><circle cx="794.7" cy="1017.5" r="6" fill="#fff" stroke="#000"/><text x="794.7" y="1020.5">4</text></g>
<g><circle cx="804" cy="1015.3" r="6" fill="#fff" stroke="#000"/><text x="804" y="1018.3">5</text></g>
<g><circle cx="822" cy="1006" r="6" fill="#fff" stroke="#000"/><text x="822" y="1009">6</text></g>
<g><circle cx="830.8" cy="1001.4" r="6" fill="#fff" stroke="#000"/><text x="830.8" y="1004.4">7</text></g>
<g><circle cx="848.3" cy="992" r="6" fill="#fff" stroke="#000"/><text x="848.3" y="995">8</text></g>
<g><circle cx="857.1" cy="987.5" r="6" fill="#fff" stroke="#000"/><text x="857.1" y="990.5">9</text></g>
<g><circle cx="876" cy="978" r="6" fill="#fff" stroke="#000"/><text x="876" y="981">10</text></g>
<g><circle cx="884" cy="973.5" r="6" fill="#fff" stroke="#000"/><text x="884" y="976.5">11</text></g>
<g><circle cx="902.8" cy="964.2" r="6" fill="#fff" stroke="#000"/><text x="902.8" y="967.2">14</text></g>
<g><circle cx="911.7" cy="959.6" r="6" fill="#fff" stroke="#000"/><text x="911.7" y="962.6">15</text></g>
<g><circle cx="948" cy="1009.8" r="6" fill="#fff" stroke="#000"/><text x="948" y="1012.8">13</text></g>
<g><circle cx="931" cy="1025" r="6" fill="#fff" stroke="#000"/><text x="931" y="1028">12</text></g>
</g>
<g clip-path="url(#mapclip)" font-size="8.5" text-anchor="middle" stroke-width="0.6">
<circle cx="397.7" cy="1386.4" r="6.5" fill="#fff" stroke="#000"/><text x="397.7" y="1389.6">T</text>
</g>

<g font-size="10" text-anchor="middle">
<text x="316" y="820">P</text>
<text x="394.7" y="1276.5">C</text>
<text x="565" y="1160.5">G</text>
<text x="631.8" y="1219.5">S</text>
<text x="399.4" y="1327.3">F</text>
<text x="810.5" y="1059.5">C</text>
<text x="837" y="1113.5">S</text>
<text x="951.7" y="901.5">N</text>
<text x="793" y="1026">N</text>
</g>

<text x="329" y="1517" font-size="16">AD Elev 10'</text>
<text x="17" y="1566" font-size="9">For BMS  use only, 2/23/2022</text>
</svg>
</body></html>
